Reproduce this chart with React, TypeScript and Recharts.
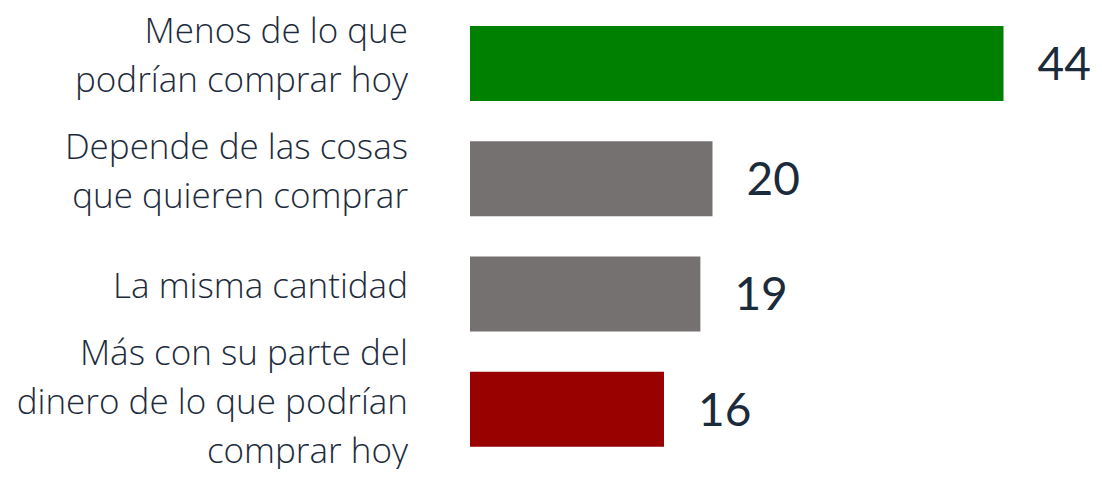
import React from 'react';
import { BarChart, Bar, XAxis, YAxis, Cell, LabelList } from 'recharts';

const categories = [
    'Menos de lo que podrían comprar hoy',
    'Depende de las cosas que quieren comprar',
    'La misma cantidad',
    'Más con su parte del dinero de lo que podrían comprar hoy'
];
const tickLines = [
    ['Menos de lo que', 'podrían comprar hoy'],
    ['Depende de las cosas', 'que quieren comprar'],
    ['La misma cantidad'],
    ['Más con su parte del', 'dinero de lo que podrían', 'comprar hoy']
];
const values = [44, 20, 19, 16];
const barColors = ['#008000', '#767171', '#767171', '#990000'];

const data = categories.map((name, i) => ({ name, value: values[i] }));

const textColor = '#1c2b3c';

// category labels sit a bit above the bar centre, like the original slide
const MultiLineTick = (props: any) => {
    const { x, y, index } = props;
    const lines = tickLines[index] || [];
    const lineHeight = 49;
    const startY = y - 8 - ((lines.length - 1) * lineHeight) / 2;
    return (
        <text
            x={x - 54}
            y={startY}
            textAnchor="end"
            fill={textColor}
            fontSize={35}
            fontWeight={300}
            fontFamily='"Open Sans", sans-serif'
        >
            {lines.map((line: string, i: number) => (
                <tspan key={i} x={x - 54} y={startY + i * lineHeight} dy="0.35em">
                    {line}
                </tspan>
            ))}
        </text>
    );
};

export default function App() {
    return (
        <div style={{ margin: -8, background: '#fff', width: 1102, height: 477 }}>
            <BarChart
                width={1102}
                height={477}
                data={data}
                layout="vertical"
                margin={{ top: 6, right: 50, left: 0, bottom: 10 }}
                barSize={75}
                style={{ overflow: 'visible' }}
            >
                <XAxis type="number" domain={[0, 48]} hide />
                <YAxis
                    type="category"
                    dataKey="name"
                    width={470}
                    axisLine={false}
                    tickLine={false}
                    tick={<MultiLineTick />}
                    interval={0}
                />
                <Bar dataKey="value" isAnimationActive={false}>
                    {data.map((_, i) => (
                        <Cell key={i} fill={barColors[i]} />
                    ))}
                    <LabelList
                        dataKey="value"
                        position="right"
                        offset={34}
                        fill={textColor}
                        fontSize={46}
                        fontFamily='Lato, "Open Sans", sans-serif'
                    />
                </Bar>
            </BarChart>
        </div>
    );
}
